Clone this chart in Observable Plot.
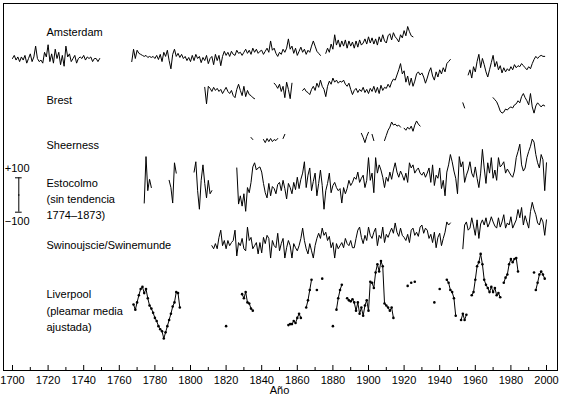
<!DOCTYPE html>
<html><head><meta charset="utf-8">
<script src="https://cdn.jsdelivr.net/npm/d3@7"></script>
<script src="https://cdn.jsdelivr.net/npm/@observablehq/plot@0.6"></script>
<style>
html,body{margin:0;padding:0;background:#fff;}
#chart svg{display:block;}
</style></head><body><div id="chart"></div>
<script>
// ---- DATA: sea level anomalies (mm), annual, per record segment ----
const years = d3.range(1700, 2001, 20);
const minorYears = d3.range(1710, 2000, 20);
const scaleBarMM = [-100, 100];

const amsterdam = [
  {start: 1700, mm: [0,18,-9,9,-18,9,-9,18,-27,0, 27,-18,9,72,0,-18,-9,-27,36,9, 80,-18,27,-27,54,0,36,-36,18,-45, 72,9,27,-18,0,18,-27,0,9,0, 18,-9,9,0,9,-18,0,0,-18,0]},
  {start: 1767, mm: [-18,54,0,48,30,24,18,12,18,6, 12,6,12,0,18,-6,24,-18,36,12, 48,-12,-60,24,54,12,30,6,24,0, 12,-12,6,
    -18,18,-12,24,0,12,-24,6,-12,18, -30,0,12,-36,24,-12,18,-42,12,42, 18,36,12,42,24,18,48,30,36,18,
    36,54,30,48,24,60,36,54,30,42, 48,24,42,60,36,102,48,60,30,12, 36,24,54,36,60,114,54,72,30,60, 18,42,66,36,54,24,48,36,72,102, 72,42,30,18]},
  {start: 1876, mm: [30,60,36,84,54,138,78,108,66,102, 72,108,60,102,72,96,60,102,66,108, 78,90,114,84,126,90,120,84,114,78, 126,96,138,102,90,132,144,108,150,126, 114,96,138,120,162,132,186,156,132,126]}
];

const brest = [
  {start: 1808, mm: [30,-66,36,24,6,30,12,24,6,18, -6,12,30,6,-6,12,-18,-30,18,48, 12,-18,36,-24,12,-12,-18,-30,-36]},
  {start: 1847, mm: [54,42,24,48,6,36,-30,60,18,-36,54]},
  {start: 1863, mm: [12,24,6,0,-12,18,36,12,54,30, 72,36,18,-24,36,66,48,84,60,72, 54,66,60,72,48,36,54,18,-12,12, 24,0,18,6,30,0,18,-6,24,6, 36,0,30,-6,42,12,
    30,24,48,30,60,78,72,102,132,168, 108,126,60,96,42,84,36,66,108,120, 102,114,90,54,84,120,144,96,72,120, 90,132,108,144,120,168,180,192]},
  {start: 1956, mm: [102,132,84,150,120,180,222,144,198,162, 120,90,132,174,216,150,180,132,156,114, 144,120,138,126,150,132,162,144,156,150, 168,156,144,132,150,138,168,192,210,198, 210,216,210,210]},
  {start: 1953, mm: [-60,-90]},
  {start: 1970, mm: [-30,-42,-54,-78,-108,-120,-114,-96,-102,-90, -84,-90,-72,-66,-48,-60,-24,-6,-30,-48, -72,-6,-84,-120,-78,-60,-72,-84,-72,-78]}
];

const sheerness = [
  {start: 1834, mm: [6,-6]},
  {start: 1841, mm: [-6,-24,0,-18,0,-18,-6,-12,0]},
  {start: 1852, mm: [0,24]},
  {start: 1896, mm: [30,6,-24,12,36]},
  {start: 1902, mm: [24,-12]},
  {start: 1909, mm: [-12,18,48,66,96,78,84,72,78,66]},
  {start: 1920, mm: [60,48,66,54,72,42,78,102,84,72]}
];

const estocolmo = [
  {start: 1774, mm: [-102,168,-30,36,-12]},
  {start: 1788, mm: [30,-12,-102,132,72]},
  {start: 1802, mm: [78,138,-30,-138,30,120,12,-72,30,-48,-30]},
  {start: 1826, mm: [102,-108,-60,-120,-48,-150,-12,-42,18,108, 132,90,102,108,78,12,-42,-72,12,-60, -6,-18,-48,6,18,-30,30,-18,-78,12,
    -12,-48,18,-24,48,-18,36,72,138,-12, 60,102,-30,24,72,-60,12,90,0,-138, -30,12,72,-42,0,18,-12,-30,-18,-102, -12,-48,-18,30,0,18,48,36,78,18, 42,60,-12,30,162,
    30,72,-42,162,72,120,90,48,-12,48, 24,78,36,90,132,78,48,84,60,30, 72,18,132,102,120,72,90,102,72,60, 78,48,72,102,18,120,0,60,42,102,
    -18,30,-60,78,120,180,138,84,42,-48, 168,108,138,18,60,90,138,72,48,108, 42,-12,72,210,102,12,132,72,162,42, 90,30,162,108,120,138,72,96,78,60,
    48,84,162,198,240,120,84,102,162,198, 228,270,252,180,132,102,180,150,-30,132]}
];

const swinoujscie = [
  {start: 1812, mm: [-30,-48,-18,-48,18,60,-30,0,-48,0, -30,-12,0,60,-90,-12,-30,12,-48,-60, 78,0,18,-48,-30,-12,-78,-12,-72,18, -18,30,12,-102,0,-30,-42,42,-60,-18,
    12,-102,-42,0,-30,-102,-18,-42,-60,-30, 12,72,0,-48,-78,-18,-60,-102,-30,12, 42,12,72,30,48,0,24,-42,-12,-102, -18,-48,-30,-12,-42,12,-18,-30,0,-42, -42,12,60,78,18,-18,30,0,78,
    30,12,48,72,-30,30,12,78,-12,36, 18,48,72,42,102,48,24,72,30,18, 0,36,-12,60,72,30,48,24,78,90, 42,72,60,12,36,-12,48,-42,18,42, -30,12,48,108,90,102]},
  {start: 1953, mm: [-48,90,108,60,72,132,84,30,120,12, 96,120,90,132,78,102,138,108,84,72, 132,78,108,150,72,102,90,138,72,96, 120,180,132,192,90,144,108,72,168,222, 180,150,102,90,132,108,30,120]}
];

const liverpool = [
  {start: 1768, mm: [6,-24,18,60,96,108,72,96,42,0, -18,-42,-72,-90,-120,-138,-150,-192,-156,-120, -84,-48,-6,18,78,72,-12]},
  {start: 1820, mm: [-120]},
  {start: 1829, mm: [66,42,78,18,12,-18,-30]},
  {start: 1855, mm: [-114,-108,-108,-90,-102,-72,-48,-72]},
  {start: 1865, mm: [-12,30,90,150]},
  {start: 1871, mm: [90]},
  {start: 1874, mm: [156]},
  {start: 1880, mm: [-120]},
  {start: 1882, mm: [-24,42,90,120]},
  {start: 1888, mm: [42,30,24,36,18,-30,18,-48,-12,-60, 0,30,-30,138,132,102,192,240,198,258, 228,12,0,-12,-30,-12,-72]},
  {start: 1922, mm: [114]},
  {start: 1924, mm: [132]},
  {start: 1926, mm: [138]},
  {start: 1937, mm: [18]},
  {start: 1940, mm: [96]},
  {start: 1944, mm: [150,132,90,78,42,-60]},
  {start: 1952, mm: [-84,-48,-84,-54]},
  {start: 1958, mm: [60,78,150,228,252,300,240,150,120,102,78,108,78,102,60,72,48]},
  {start: 1976, mm: [132,162,180,240,270,252,270,276,198]},
  {start: 1993, mm: [192]},
  {start: 1994, mm: [90,132,180,198,180,156]}
];

// ---- LAYOUT ----
const W = 561, H = 399;
const FRAME_TOP = 3, FRAME_BOTTOM = 370, FRAME_LEFT = 3, FRAME_RIGHT = 557;
const PX_PER_MM = 0.172, PX_PER_YEAR = 1.78, X1700 = 12;
const toMM = px => (FRAME_BOTTOM - px) / PX_PER_MM;       // pixel row -> stacked mm
const toYear = px => 1700 + (px - X1700) / PX_PER_YEAR;    // pixel col -> year
const basePx = {Amsterdam: 58, Brest: 92, Sheerness: 138, Estocolmo: 185, Swin: 240, Liverpool: 305};
const barCenter = toMM(194.5);

function rows(key, segs) {
  const off = toMM(basePx[key]);
  return segs.flatMap((s, i) => s.mm.map((v, j) => ({seg: key + i, year: s.start + j, y: off + v})));
}
const lineRows = [
  ...rows("Amsterdam", amsterdam), ...rows("Brest", brest), ...rows("Sheerness", sheerness),
  ...rows("Estocolmo", estocolmo), ...rows("Swin", swinoujscie), ...rows("Liverpool", liverpool)
];
const livRows = rows("Liverpool", liverpool);

const labels = [
  {text: "Amsterdam", px: 31.5}, {text: "Brest", px: 100}, {text: "Sheerness", px: 145},
  {text: "Estocolmo", px: 182.5}, {text: "(sin tendencia", px: 199}, {text: "1774–1873)", px: 215},
  {text: "Swinoujscie/Swinemunde", px: 244.5},
  {text: "Liverpool", px: 294}, {text: "(pleamar media", px: 310.5}, {text: "ajustada)", px: 327}
];

const font = "'Liberation Sans', Arial, Helvetica, sans-serif";
const frameH = FRAME_BOTTOM - FRAME_TOP;

const chart = Plot.plot({
  width: W, height: H,
  marginTop: FRAME_TOP, marginBottom: H - FRAME_BOTTOM, marginLeft: FRAME_LEFT, marginRight: W - FRAME_RIGHT,
  style: {fontFamily: font, fontSize: "11px", color: "black", background: "white"},
  x: {domain: [toYear(FRAME_LEFT), toYear(FRAME_RIGHT)]},
  y: {domain: [0, frameH / PX_PER_MM]},
  marks: [
    Plot.frame({stroke: "black", strokeWidth: 1}),
    Plot.ruleX(years, {stroke: "black", insetTop: frameH - 5}),
    Plot.ruleX(minorYears, {stroke: "black", insetTop: frameH - 3}),
    Plot.axisX(years, {tickSize: 0, tickPadding: 6, tickFormat: d => String(d), fontSize: 11, label: null}),
    Plot.axisY({ticks: [], label: null, tickSize: 0}),
    Plot.text(["Año"], {x: 1850, frameAnchor: "bottom", dy: 23, fontSize: 11}),
    Plot.line(lineRows, {x: "year", y: "y", z: "seg", stroke: "black", strokeWidth: 1}),
    Plot.dot(livRows, {x: "year", y: "y", r: 1.3, fill: "black", stroke: null}),
    // scale bar ±100 mm
    Plot.ruleX([toYear(18.3)], {y1: barCenter + scaleBarMM[0], y2: barCenter + scaleBarMM[1], stroke: "black"}),
    Plot.ruleY(scaleBarMM.map(v => barCenter + v), {x1: toYear(15), x2: toYear(21.7), stroke: "black"}),
    Plot.dot([barCenter], {x: toYear(18.3), y: d => d, r: 0.8, fill: "black", stroke: null}),
    Plot.text(["+100"], {x: toYear(16.7), y: barCenter + scaleBarMM[1], dy: -9.5, fontSize: 11}),
    Plot.text(["\u2212100"], {x: toYear(16.7), y: barCenter + scaleBarMM[0], dy: 9, fontSize: 11}),
    Plot.text(labels, {x: toYear(46), y: d => toMM(d.px), text: "text", textAnchor: "start", fontSize: 11})
  ]
});
document.getElementById("chart").appendChild(chart);
</script></body></html>
